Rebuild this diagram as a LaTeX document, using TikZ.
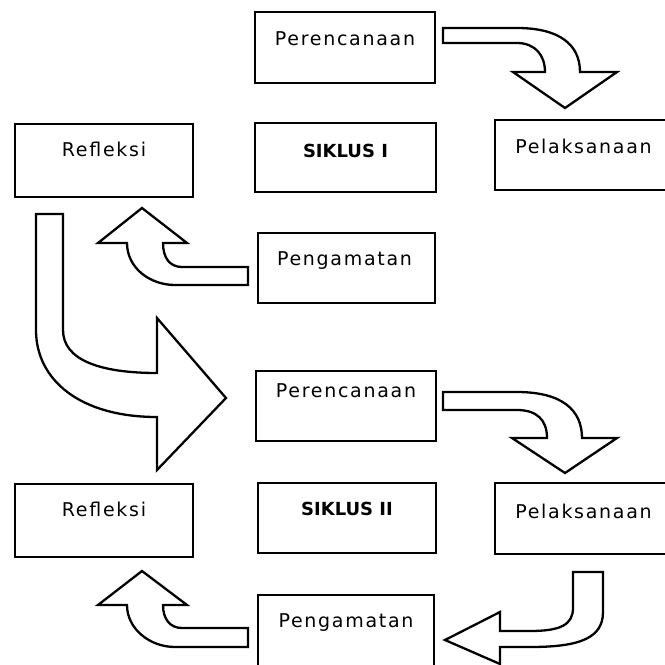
\documentclass[tikz,border=0pt]{standalone}
\usepackage{fontspec}
\newfontfamily\regfont[LetterSpace=9]{DejaVu Sans}
\newfontfamily\boldfont{DejaVu Sans Bold}
\usetikzlibrary{calc}
\begin{document}
\begin{tikzpicture}[x=1pt,y=-1pt,
  boxshape/.style={draw=black, line width=2.8pt, fill=white, rectangle, inner sep=0pt, outer sep=0pt, anchor=north west},
  lbl/.style={anchor=base, inner sep=0pt, font=\fontsize{19}{22}\selectfont\regfont},
  blbl/.style={anchor=base, inner sep=0pt, font=\fontsize{18}{22}\selectfont\boldfont},
  blockarrow/.style={draw=black, line width=2.3pt, fill=white, line join=miter}]
\useasboundingbox (0,0) rectangle (665,665);
\clip (0,0) rectangle (665,665);
% boxes
\node[boxshape, minimum width=180pt, minimum height=71pt] (p1) at (255,12) {};
\node[boxshape, minimum width=181pt, minimum height=69pt] (s1) at (255,123) {};
\node[boxshape, minimum width=173pt, minimum height=70pt] (l1) at (495,120) {};
\node[boxshape, minimum width=178pt, minimum height=73pt] (r1) at (15,124) {};
\node[boxshape, minimum width=177pt, minimum height=70pt] (g1) at (258,233) {};
\node[boxshape, minimum width=180pt, minimum height=70pt] (p2) at (256,371) {};
\node[boxshape, minimum width=178pt, minimum height=70pt] (s2) at (258,483) {};
\node[boxshape, minimum width=173pt, minimum height=71pt] (l2) at (495,483) {};
\node[boxshape, minimum width=178pt, minimum height=73pt] (r2) at (15,484) {};
\node[boxshape, minimum width=176pt, minimum height=74pt] (g2) at (258,595) {};
% labels
\node[lbl] (p1t) at ($(p1.north)+(0,33)$) {Perencanaan};
\node[blbl] (s1t) at ($(s1.north)+(0,34)$) {SIKLUS I};
\node[lbl] (l1t) at ($(l1.north)+(2,33)$) {Pelaksanaan};
\node[lbl] (r1t) at ($(r1.north)+(0,32)$) {Refleksi};
\node[lbl] (g1t) at ($(g1.north)+(-2,32)$) {Pengamatan};
\node[lbl] (p2t) at ($(p2.north)+(0,26)$) {Perencanaan};
\node[blbl] (s2t) at ($(s2.north)+(0,32)$) {SIKLUS II};
\node[lbl] (l2t) at ($(l2.north)+(2,35)$) {Pelaksanaan};
\node[lbl] (r2t) at ($(r2.north)+(0,32)$) {Refleksi};
\node[lbl] (g2t) at ($(g2.north)+(0,32)$) {Pengamatan};
% arrow: Perencanaan I -> Pelaksanaan I
\draw[blockarrow] (443,28) -- (517,28) .. controls (560,28) and (580,45) .. (580,72)
  -- (617,72) -- (565,108) -- (513,72) -- (545,72)
  .. controls (545,55) and (535,43) .. (517,43) -- (443,43) -- cycle;
% arrow: Pengamatan I -> Refleksi I
\draw[blockarrow] (248,267) -- (182,267) .. controls (170,267) and (163,258) .. (163,243)
  -- (187,243) -- (142,208) -- (98,243) -- (127,243)
  .. controls (127,268) and (150,285) .. (175,285) -- (248,285) -- cycle;
% big arrow: Refleksi I -> Perencanaan II
\draw[blockarrow] (36,214) -- (63,214) -- (63,330) .. controls (63,360) and (100,373) .. (157,373)
  -- (157,318) -- (226,398) -- (157,470) -- (157,417)
  .. controls (80,417) and (36,380) .. (36,330) -- cycle;
% arrow: Perencanaan II -> Pelaksanaan II
\draw[blockarrow] (443,392) -- (517,392) .. controls (562,392) and (582,410) .. (582,438)
  -- (617,438) -- (565,473) -- (512,438) -- (547,438)
  .. controls (547,420) and (537,410) .. (517,410) -- (443,410) -- cycle;
% arrow: Pelaksanaan II -> Pengamatan II
\draw[blockarrow] (573,572) -- (603,572) -- (603,612) .. controls (603,638) and (580,647) .. (530,647)
  -- (500,647) -- (500,664) -- (445,640) -- (500,612) -- (500,631) -- (530,631)
  .. controls (560,631) and (573,625) .. (573,608) -- cycle;
% arrow: Pengamatan II -> Refleksi II
\draw[blockarrow] (248,628) -- (182,628) .. controls (170,628) and (163,619) .. (163,605)
  -- (187,605) -- (142,571) -- (98,605) -- (127,605)
  .. controls (127,629) and (150,647) .. (175,647) -- (248,647) -- cycle;
\end{tikzpicture}
\end{document}
